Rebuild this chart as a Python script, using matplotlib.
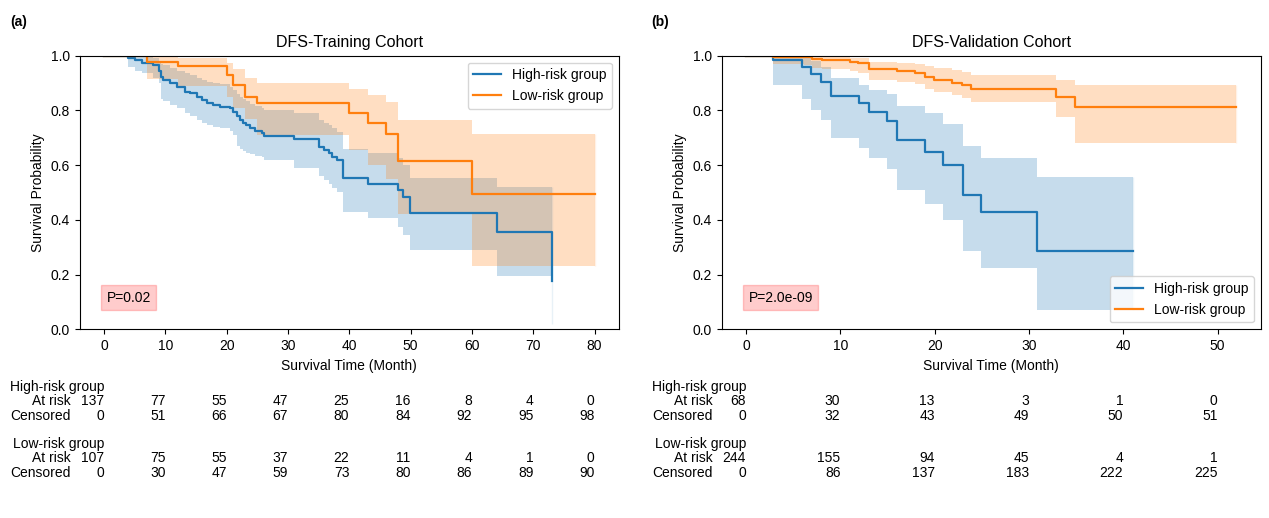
import matplotlib.pyplot as plt
from matplotlib.transforms import blended_transform_factory, offset_copy

plt.rcParams['font.family'] = ['Liberation Sans', 'DejaVu Sans']
plt.rcParams['font.size'] = 10

# ---- DFS training cohort ----
train_high_t = [0, 3.97, 5.06, 6.14, 8.05, 8.9, 9.2, 9.68, 10.8, 11.9,
                13.2, 14.0, 15.1, 15.9, 16.8, 17.8, 18.9, 20.6, 21.1, 21.6,
                22.2, 22.7, 23.2, 23.8, 24.6, 25.7, 26.0, 30.9, 35.0, 35.8,
                36.6, 37.1, 38.0, 39.0, 43.0, 48.0, 48.8, 49.9, 64.0, 73.0]
train_high_s = [1, .993, .984, .975, .966, .945, .923, .911, .899, .887,
                .868, .862, .850, .838, .828, .820, .814, .808, .795, .778,
                .765, .755, .745, .735, .726, .716, .707, .694, .668, .655,
                .643, .631, .619, .552, .531, .509, .482, .426, .355, .177]
train_high_lo = [1, .96, .945, .935, .92, .90, .84, .835, .82, .81,
                 .79, .78, .765, .755, .745, .74, .735, .725, .71, .67,
                 .66, .65, .645, .64, .635, .63, .62, .59, .56, .545,
                 .53, .515, .50, .43, .405, .375, .345, .29, .195, .02]
train_high_hi = [1, 1.0, .998, .995, .99, .98, .97, .965, .955, .945,
                 .935, .93, .92, .91, .905, .90, .895, .885, .875, .86,
                 .85, .84, .835, .825, .815, .81, .80, .79, .765, .755,
                 .745, .735, .72, .66, .643, .625, .60, .552, .521, .52]

train_low_t = [0, 7.0, 12.0, 20.0, 21.1, 23.0, 24.9, 40.0, 43.0, 46.0, 48.0, 60.0, 80.0]
train_low_s = [1, .978, .962, .929, .893, .850, .828, .792, .753, .712, .616, .494, .494]
train_low_lo = [1, .915, .89, .85, .81, .77, .71, .655, .60, .55, .42, .23, .23]
train_low_hi = [1, .995, .99, .975, .95, .92, .90, .88, .856, .832, .765, .714, .714]

train_ticks = [0, 10, 20, 30, 40, 50, 60, 70, 80]
train_high_risk = [137, 77, 55, 47, 25, 16, 8, 4, 0]
train_high_cens = [0, 51, 66, 67, 80, 84, 92, 95, 98]
train_low_risk = [107, 75, 55, 37, 22, 11, 4, 1, 0]
train_low_cens = [0, 30, 47, 59, 73, 80, 86, 89, 90]

# ---- DFS validation cohort ----
valid_high_t = [0, 2.9, 5.9, 6.9, 7.95, 8.98, 12.0, 13.0, 14.9, 16.0,
                18.98, 20.9, 23.0, 24.9, 30.9, 41.0]
valid_high_s = [1, .984, .958, .933, .905, .853, .826, .794, .761, .692,
                .649, .600, .491, .430, .287, .287]
valid_high_lo = [1, .893, .84, .802, .765, .698, .662, .625, .585, .509,
                 .458, .399, .285, .224, .072, .072]
valid_high_hi = [1, 1.0, .99, .98, .96, .917, .893, .875, .86, .816,
                 .789, .750, .671, .625, .555, .555]

valid_low_t = [0, 2.9, 6.1, 7.0, 8.0, 11.0, 11.9, 13.0, 16.0, 17.9,
               19.0, 19.9, 21.8, 22.9, 23.9, 32.9, 34.9, 52.0]
valid_low_s = [1, .996, .994, .987, .984, .978, .972, .95, .945, .936,
               .921, .911, .901, .894, .878, .850, .811, .811]
valid_low_lo = [1, .97, .965, .955, .95, .945, .935, .91, .905, .895,
                .88, .868, .855, .845, .83, .775, .68, .68]
valid_low_hi = [1, 1, 1, .998, .997, .993, .99, .978, .975, .97,
                .962, .955, .948, .942, .93, .911, .893, .893]

valid_ticks = [0, 10, 20, 30, 40, 50]
valid_high_risk = [68, 30, 13, 3, 1, 0]
valid_high_cens = [0, 32, 43, 49, 50, 51]
valid_low_risk = [244, 155, 94, 45, 4, 1]
valid_low_cens = [0, 86, 137, 183, 222, 225]

group_names = ['High-risk group', 'Low-risk group']
BLUE = '#1f77b4'
ORANGE = '#ff7f0e'


def plot_km(ax, t, s, lo, hi, color, label):
    ax.fill_between(t, lo, hi, step='post', color=color, alpha=0.25, linewidth=0)
    # faint line at the last time point, where the band has no width
    ax.vlines(t[-1], lo[-1], hi[-1], color=color, alpha=0.1, lw=1)
    ax.step(t, s, where='post', color=color, lw=1.6, label=label)


def at_risk_table(fig, ax, ticks, rows):
    # rows: list of (name, at_risk, censored)
    trans = blended_transform_factory(ax.transData, fig.transFigure)
    label_trans = offset_copy(trans, fig=fig, x=-24, units='points')
    for g, (name, risk, cens) in enumerate(rows):
        y0 = 0.2529 - g * 0.110
        ys = [y0, y0 - 0.027, y0 - 0.056]
        ax.text(ticks[0], ys[0], name, transform=trans, ha='right', va='center', clip_on=False)
        ax.text(ticks[0], ys[1], 'At risk', transform=label_trans, ha='right', va='center', clip_on=False)
        ax.text(ticks[0], ys[2], 'Censored', transform=label_trans, ha='right', va='center', clip_on=False)
        for x, r, c in zip(ticks, risk, cens):
            ax.text(x, ys[1], str(r), transform=trans, ha='right', va='center', clip_on=False)
            ax.text(x, ys[2], str(c), transform=trans, ha='right', va='center', clip_on=False)


def setup(ax, title, ticks, pval, legend_loc):
    ax.set_title(title, fontsize=11.5)
    ax.set_xlabel('Survival Time (Month)')
    ax.set_ylabel('Survival Probability')
    ax.set_ylim(0, 1.0)
    ax.set_xticks(ticks)
    ax.set_yticks([0, 0.2, 0.4, 0.6, 0.8, 1.0])
    ax.legend(loc=legend_loc)
    ax.text(0.05, 0.1, pval, transform=ax.transAxes,
            bbox=dict(facecolor='red', edgecolor='red', alpha=0.2))


def plot():
    fig = plt.figure(figsize=(12.69, 5.18), dpi=100)
    ax1 = fig.add_axes([0.0627, 0.3643, 0.4252, 0.5282])
    ax2 = fig.add_axes([0.5686, 0.3643, 0.4251, 0.5282])

    plot_km(ax1, train_high_t, train_high_s, train_high_lo, train_high_hi, BLUE, group_names[0])
    plot_km(ax1, train_low_t, train_low_s, train_low_lo, train_low_hi, ORANGE, group_names[1])
    ax1.set_xlim(-4, 84)
    setup(ax1, 'DFS-Training Cohort', train_ticks, 'P=0.02', 'upper right')

    plot_km(ax2, valid_high_t, valid_high_s, valid_high_lo, valid_high_hi, BLUE, group_names[0])
    plot_km(ax2, valid_low_t, valid_low_s, valid_low_lo, valid_low_hi, ORANGE, group_names[1])
    ax2.set_xlim(-2.6, 54.6)
    setup(ax2, 'DFS-Validation Cohort', valid_ticks, 'P=2.0e-09', 'lower right')

    at_risk_table(fig, ax1, train_ticks,
                  [(group_names[0], train_high_risk, train_high_cens),
                   (group_names[1], train_low_risk, train_low_cens)])
    at_risk_table(fig, ax2, valid_ticks,
                  [(group_names[0], valid_high_risk, valid_high_cens),
                   (group_names[1], valid_low_risk, valid_low_cens)])

    fig.text(0.008, 0.957, '(a)', fontweight='bold', va='center')
    fig.text(0.513, 0.957, '(b)', fontweight='bold', va='center')

    fig.savefig('out.png', dpi=100)


if __name__ == "__main__":
    plot()
